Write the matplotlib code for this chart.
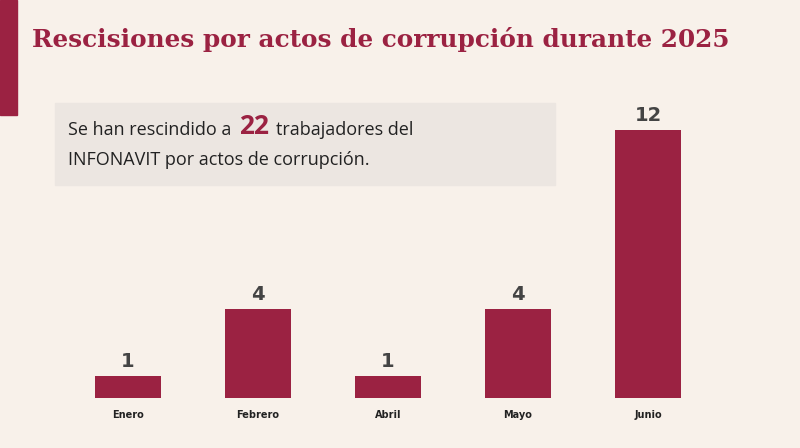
import matplotlib
matplotlib.use("Agg")
import matplotlib.pyplot as plt
from matplotlib.patches import Rectangle

months = ["Enero", "Febrero", "Abril", "Mayo", "Junio"]
values = [1, 4, 1, 4, 12]
title = "Rescisiones por actos de corrupción durante 2025"

W, H = 800, 448
bg = "#f8f1ea"
maroon = "#9b2242"
fig = plt.figure(figsize=(W/100, H/100), dpi=100, facecolor=bg)

fig.patches.append(Rectangle((0, 1-115/H), 17/W, 115/H, transform=fig.transFigure, color=maroon, zorder=0))
fig.patches.append(Rectangle((55/W, 1-185/H), 500/W, 82/H, transform=fig.transFigure, color="#ece6e1", zorder=0))

fig.text(32/W, 1-40/H, title, fontsize=17.8, fontweight="bold", color=maroon,
         family="DejaVu Serif", va="center", ha="left")

renderer = fig.canvas.get_renderer()
t1 = fig.text(68/W, 1-130/H, "Se han rescindido a", fontsize=13, color="#222", va="center", family="Open Sans")
x1 = t1.get_window_extent(renderer).x1
t2 = fig.text((x1+8)/W, 1-126/H, "22", fontsize=19, fontweight="bold", color=maroon, va="center", family="Open Sans")
x2 = t2.get_window_extent(renderer).x1
fig.text((x2+7)/W, 1-130/H, "trabajadores del", fontsize=13, color="#222", va="center", family="Open Sans")
fig.text(68/W, 1-160/H, "INFONAVIT por actos de corrupción.", fontsize=13, color="#222", va="center", family="Open Sans")

left = 63/W; right = 713/W
bottom = 1-398/H; top = 1-130/H
ax = fig.add_axes([left, bottom, right-left, top-bottom])
ax.set_facecolor("none")
x = range(len(months))
ax.bar(x, values, width=0.51, color=maroon)
for i, v in zip(x, values):
    ax.text(i, v + 0.22, str(v), ha="center", va="bottom", fontsize=14, fontweight="bold", color="#444")
ax.set_xlim(-0.5, 4.5)
ax.set_ylim(0, 12)
ax.set_xticks(list(x))
ax.set_xticklabels(months, fontsize=7, fontweight="bold", color="#222")
ax.tick_params(length=0, pad=9)
ax.set_yticks([])
for s in ax.spines.values():
    s.set_visible(False)

fig.savefig("out.png", dpi=100, facecolor=bg)
